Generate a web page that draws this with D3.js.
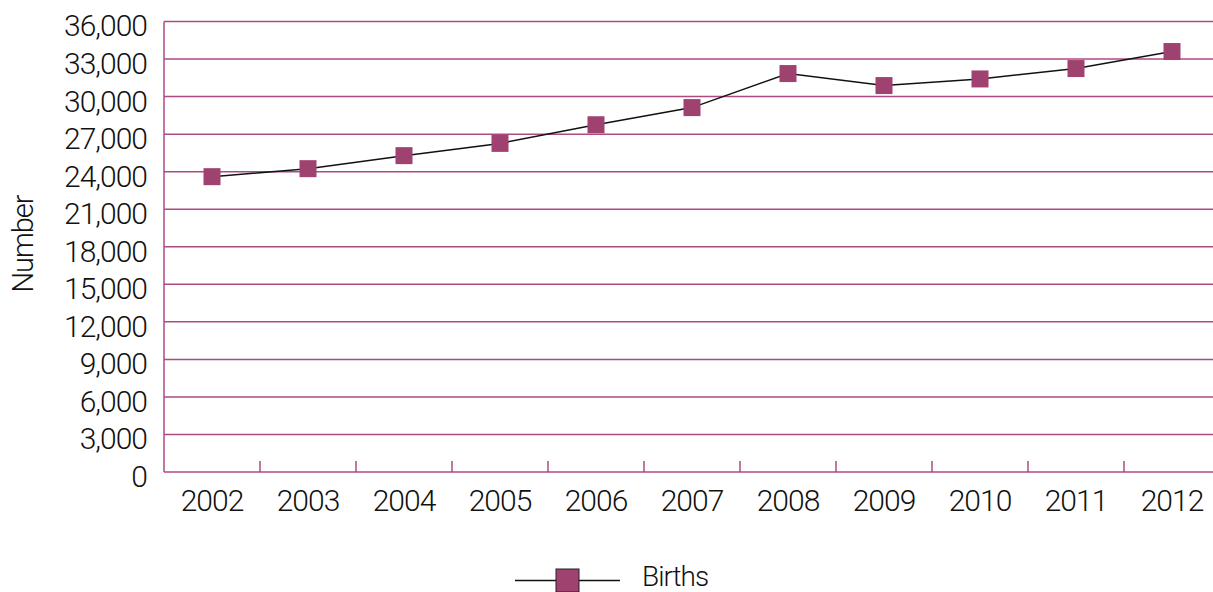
<!DOCTYPE html>
<html>
<head>
<meta charset="utf-8">
<script src="https://cdn.jsdelivr.net/npm/d3@7"></script>
<style>
  html, body { margin: 0; padding: 0; background: #fff; }
  svg { display: block; }
  text { font-family: Roboto, "Liberation Sans", Arial, sans-serif; font-weight: 300; fill: #111; }
</style>
</head>
<body>
<svg id="chart" width="1213" height="592"></svg>
<script>
// Annual births, 2002–2012
const years = ["2002", "2003", "2004", "2005", "2006", "2007", "2008", "2009", "2010", "2011", "2012"];
const births = [23600, 24240, 25280, 26260, 27750, 29120, 31840, 30880, 31410, 32240, 33600];
const yTicks = [0, 3000, 6000, 9000, 12000, 15000, 18000, 21000, 24000, 27000, 30000, 33000, 36000];
const seriesName = "Births";
const yTitle = "Number";

const gridColor = "#ad4a82";
const markColor = "#a04270";

const svg = d3.select("#chart");
const plot = { left: 164, right: 1220, top: 21.5, bottom: 472 };

const x = d3.scaleBand().domain(years).range([plot.left, plot.right]).padding(0);
const y = d3.scaleLinear().domain([0, 36000]).range([plot.bottom, plot.top]);

// horizontal gridlines
svg.append("g")
  .selectAll("line")
  .data(yTicks.filter(d => d > 0))
  .join("line")
  .attr("x1", plot.left).attr("x2", plot.right)
  .attr("y1", d => y(d)).attr("y2", d => y(d))
  .attr("stroke", gridColor).attr("stroke-width", 1.5);

// y axis labels
const fmt = d3.format(",");
svg.append("g")
  .selectAll("text")
  .data(yTicks)
  .join("text")
  .attr("x", 147)
  .attr("y", d => y(d) + 7)
  .attr("text-anchor", "end")
  .attr("dominant-baseline", "middle")
  .attr("font-size", 30)
  .attr("letter-spacing", -1)
  .text(d => fmt(d));

// left and bottom axis lines
svg.append("line")
  .attr("x1", plot.left).attr("x2", plot.left)
  .attr("y1", plot.top).attr("y2", plot.bottom)
  .attr("stroke", gridColor).attr("stroke-width", 1.5);
svg.append("line")
  .attr("x1", plot.left).attr("x2", plot.right)
  .attr("y1", plot.bottom).attr("y2", plot.bottom)
  .attr("stroke", gridColor).attr("stroke-width", 1.5);

// category boundary ticks pointing up from the x axis
svg.append("g")
  .selectAll("line")
  .data(years.slice(1))
  .join("line")
  .attr("x1", d => x(d)).attr("x2", d => x(d))
  .attr("y1", plot.bottom).attr("y2", plot.bottom - 11)
  .attr("stroke", gridColor).attr("stroke-width", 1.5);

// x axis labels
svg.append("g")
  .selectAll("text")
  .data(years)
  .join("text")
  .attr("x", d => x(d) + x.bandwidth() / 2)
  .attr("y", 503)
  .attr("text-anchor", "middle")
  .attr("dominant-baseline", "middle")
  .attr("font-size", 30)
  .attr("letter-spacing", -1)
  .text(d => d);

// y axis title
svg.append("text")
  .attr("transform", "translate(25,244) rotate(-90)")
  .attr("text-anchor", "middle")
  .attr("dominant-baseline", "middle")
  .attr("font-size", 29)
  .attr("letter-spacing", -1)
  .text(yTitle);

// series line
const cx = d => x(d) + x.bandwidth() / 2;
const line = d3.line()
  .x((d, i) => cx(years[i]))
  .y(d => y(d));
svg.append("path")
  .datum(births)
  .attr("d", line)
  .attr("fill", "none")
  .attr("stroke", "#111")
  .attr("stroke-width", 1.5);

// square markers
const ms = 17;
svg.append("g")
  .selectAll("rect")
  .data(births)
  .join("rect")
  .attr("x", (d, i) => cx(years[i]) - ms / 2)
  .attr("y", d => y(d) - ms / 2)
  .attr("width", ms).attr("height", ms)
  .attr("fill", markColor);

// legend
const lg = svg.append("g").attr("transform", "translate(515,580.5)");
lg.append("line")
  .attr("x1", 0).attr("x2", 105)
  .attr("y1", 0).attr("y2", 0)
  .attr("stroke", "#111").attr("stroke-width", 1.5);
lg.append("rect")
  .attr("x", 41).attr("y", -11.5)
  .attr("width", 23).attr("height", 23)
  .attr("fill", markColor)
  .attr("stroke", "#222").attr("stroke-width", 1);
lg.append("text")
  .attr("x", 127).attr("y", 5.5)
  .attr("font-size", 28)
  .attr("letter-spacing", -1)
  .text(seriesName);
</script>
</body>
</html>
